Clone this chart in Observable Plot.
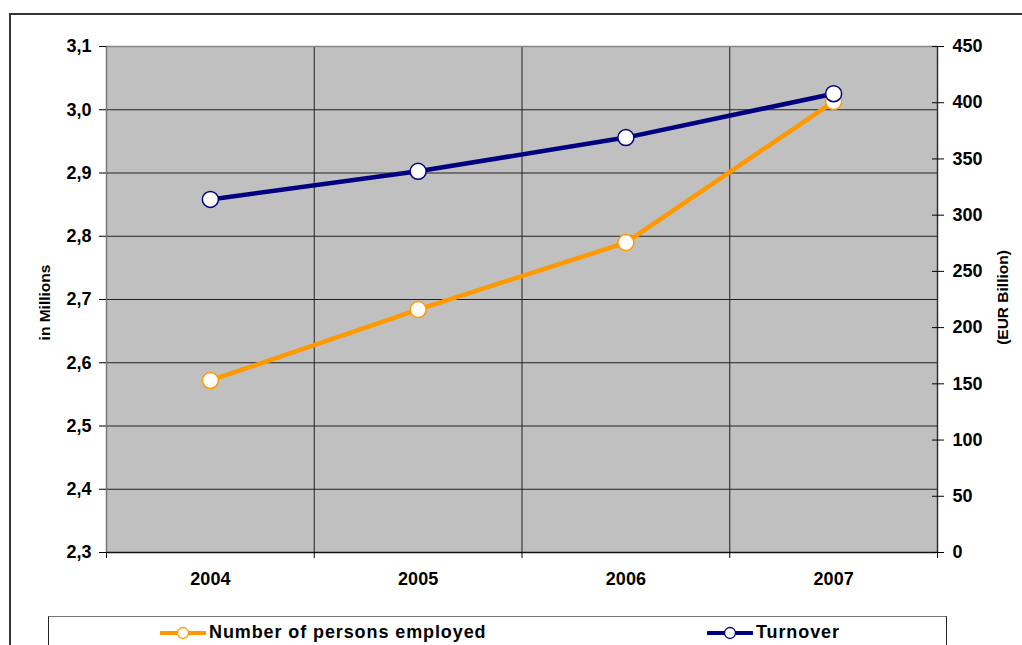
<!DOCTYPE html>
<html>
<head>
<meta charset="utf-8">
<script src="https://cdn.jsdelivr.net/npm/d3@7"></script>
<script src="https://cdn.jsdelivr.net/npm/@observablehq/plot@0.6"></script>
<style>
  html, body { margin: 0; padding: 0; background: #fff; }
  #wrap { position: relative; width: 1022px; height: 645px; overflow: hidden; font-family: "Liberation Sans", Arial, sans-serif; }
  #frame { position: absolute; left: 9px; top: 13px; width: 1100px; height: 700px; border: 2px solid #333; box-sizing: border-box; }
  #chart { position: absolute; left: 0; top: 0; }
  #chart svg text { font-family: "Liberation Sans", Arial, sans-serif !important; font-weight: bold !important; fill: #000; }
  #chart g[aria-label="y-axis tick label"] text,
  #chart g[aria-label="x-axis tick label"] text { font-size: 18px !important; }
  #chart g[aria-label="text"] text { font-size: 15.5px !important; }
  #legend { position: absolute; left: 48px; top: 616px; width: 899px; height: 60px; border: 1px solid #222; border-top-color: #777; box-sizing: border-box; background: #fff; }
  .item { position: absolute; top: 5px; display: flex; align-items: center; font-weight: bold; font-size: 18px; letter-spacing: 0.9px; color: #000; }
  .item svg { margin-right: 3px; }
</style>
</head>
<body>
<div id="wrap">
  <div id="frame"></div>
  <div id="chart"></div>
  <div id="legend"></div>
</div>
<script>
const years = [2004, 2005, 2006, 2007];
const employed = [2.572, 2.684, 2.790, 3.013];      // in millions (left axis)
const turnover = [314, 339, 369, 408];             // EUR billion (right axis)
const leftTicks = [2.3, 2.4, 2.5, 2.6, 2.7, 2.8, 2.9, 3.0, 3.1];
const rightTicks = [0, 50, 100, 150, 200, 250, 300, 350, 400, 450];
const seriesNames = ["Number of persons employed", "Turnover"];
const seriesColors = ["#FF9900", "#000080"];
const leftLabel = "in Millions";
const rightLabel = "(EUR Billion)";

const yMin = 2.3, yMax = 3.1, rMax = 450;
const toLeft = v => yMin + v / rMax * (yMax - yMin);
const fromLeft = d => String(Math.round((d - yMin) / (yMax - yMin) * rMax));
const commaFmt = d => d3.format(".1f")(d).replace(".", ",");
const blank = () => "";

const empData = years.map((y, i) => ({year: y, value: employed[i]}));
const turnData = years.map((y, i) => ({year: y, value: toLeft(turnover[i])}));
const boundaries = [2003.5, 2004.5, 2005.5, 2006.5, 2007.5];
const innerBounds = [2004.5, 2005.5, 2006.5];

const chart = Plot.plot({
  width: 1022,
  height: 645,
  marginLeft: 106,
  marginRight: 85,
  marginTop: 46,
  marginBottom: 93,
  style: {fontFamily: "Liberation Sans, Arial, sans-serif", color: "#000", background: "transparent"},
  x: {type: "linear", domain: [2003.5, 2007.5]},
  y: {domain: [yMin, yMax]},
  marks: [
    Plot.frame({fill: "#C0C0C0", stroke: null}),
    Plot.ruleY(leftTicks.slice(1, -1), {stroke: "#222", strokeWidth: 1}),
    Plot.ruleX(innerBounds, {stroke: "#222", strokeWidth: 1}),
    Plot.ruleY([yMax], {stroke: "#888", strokeWidth: 1.5}),
    Plot.ruleX([2003.5], {stroke: "#777", strokeWidth: 1.5}),
    Plot.ruleX([2007.5], {stroke: "#333", strokeWidth: 1.5}),
    Plot.ruleY([yMin], {stroke: "#111", strokeWidth: 1.5}),
    Plot.axisY({anchor: "left", ticks: leftTicks, tickFormat: commaFmt, tickSize: 7, tickPadding: 8, label: null}),
    Plot.axisY({anchor: "right", ticks: rightTicks.map(toLeft), tickFormat: fromLeft, tickSize: 6, tickPadding: 9, label: null}),
    Plot.axisY({anchor: "right", ticks: rightTicks.map(toLeft), tickFormat: blank, tickSize: -6, label: null}),
    Plot.axisX({anchor: "bottom", ticks: years, tickFormat: d => String(d), tickSize: 0, tickPadding: 20, label: null}),
    Plot.axisX({anchor: "bottom", ticks: boundaries, tickFormat: blank, tickSize: 6, label: null}),
    Plot.text([leftLabel], {frameAnchor: "left", dx: -61, dy: 3, rotate: -90, textAnchor: "middle", fontSize: 15.5, fontWeight: "bold", fill: "#000"}),
    Plot.text([rightLabel], {frameAnchor: "right", dx: 66, dy: -2, rotate: -90, textAnchor: "middle", fontSize: 15.5, fontWeight: "bold", fill: "#000"}),
    Plot.line(empData, {x: "year", y: "value", stroke: seriesColors[0], strokeWidth: 4.5}),
    Plot.dot(empData, {x: "year", y: "value", r: 8, fill: "#fff", stroke: seriesColors[0], strokeWidth: 1.5}),
    Plot.line(turnData, {x: "year", y: "value", stroke: seriesColors[1], strokeWidth: 4.5}),
    Plot.dot(turnData, {x: "year", y: "value", r: 8, fill: "#fff", stroke: seriesColors[1], strokeWidth: 1.5})
  ]
});
document.getElementById("chart").appendChild(chart);

// legend
const legend = document.getElementById("legend");
const legendX = [111, 658];
seriesNames.forEach((name, i) => {
  const div = document.createElement("div");
  div.className = "item";
  div.style.left = legendX[i] + "px";
  div.innerHTML = `<svg width="46" height="14"><line x1="1" x2="45" y1="7" y2="7" stroke="${seriesColors[i]}" stroke-width="4" stroke-linecap="round"/><circle cx="23" cy="7" r="5.5" fill="#fff" stroke="${seriesColors[i]}" stroke-width="1.3"/></svg><span>${name}</span>`;
  legend.appendChild(div);
});
</script>
</body>
</html>
